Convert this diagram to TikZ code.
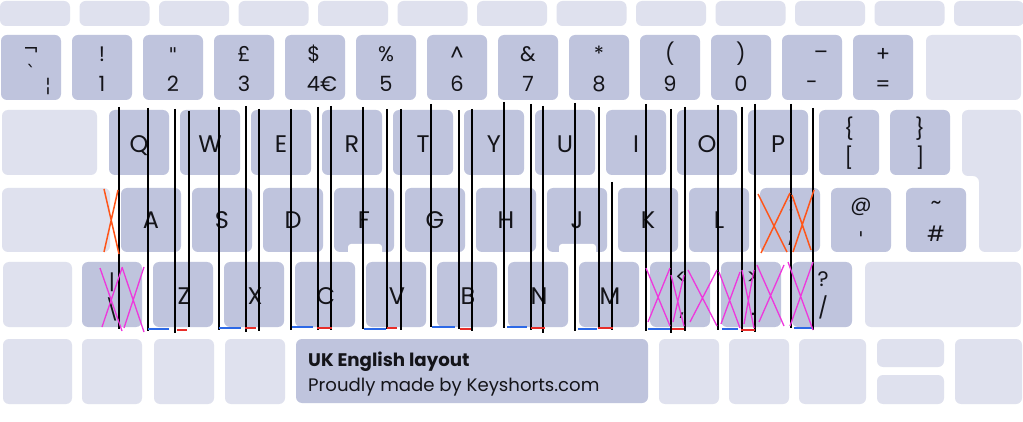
\documentclass[tikz,border=0pt]{standalone}
\usepackage{fontspec}
\setmainfont{Poppins}
\newfontfamily\symf{DejaVu Sans}
\definecolor{keyd}{RGB}{191,196,221}
\definecolor{keyl}{RGB}{223,225,238}
\definecolor{ink}{RGB}{20,20,25}
\definecolor{lblue}{RGB}{45,105,230}
\definecolor{lred}{RGB}{232,45,40}
\definecolor{lorange}{RGB}{255,85,25}
\definecolor{lmag}{RGB}{238,55,220}
\newcommand\keybox[6]{%
  \pgfmathsetmacro\kbw{#5-#3}\pgfmathsetmacro\kbh{#6-#4}%
  \node[#1, minimum width=\kbw pt, minimum height=\kbh pt, anchor=north west] (#2) at (#3,#4) {};}
\begin{document}
\begin{tikzpicture}[x=1pt,y=-1pt,
  dk/.style={fill=keyd, rounded corners=6pt, inner sep=0pt, outer sep=0pt, draw=none},
  lt/.style={fill=keyl, rounded corners=6pt, inner sep=0pt, outer sep=0pt, draw=none},
  lab/.style={inner sep=0pt, anchor=base, font=\fontsize{21}{24}\selectfont, text=ink},
  sym/.style={inner sep=0pt, anchor=base, font=\symf\fontsize{19}{22}\selectfont, text=ink},
  big/.style={inner sep=0pt, anchor=base, font=\fontsize{24}{26}\selectfont, text=ink},
  blk/.style={line width=1.4pt, black},
  bseg/.style={line width=2pt, lblue},
  rseg/.style={line width=2pt, lred},
  oxx/.style={line width=1.5pt, lorange},
  mxx/.style={line width=1.3pt, lmag}]
\useasboundingbox (0,0) rectangle (1023,422);
\fill[white] (0,0) rectangle (1023,422);
% function row
\foreach \i in {0,...,12}{
  \pgfmathsetmacro\fx{79.5*\i}
  \keybox{lt}{f\i}{\fx}{1}{\fx+70}{26}}
% number row
\foreach \i/\n in {0/grave,1/one,2/two,3/three,4/four,5/five,6/six,7/seven,8/eight,9/nine,10/zero,11/minus,12/equal}{
  \pgfmathsetmacro\fx{1+71*\i}
  \keybox{dk}{k\n}{\fx}{35}{\fx+60}{100}}
\keybox{lt}{kback}{926}{35}{1021}{100}
% qwerty row
\keybox{lt}{ktab}{2}{110}{97}{175}
\foreach \i/\n in {0/Q,1/W,2/E,3/R,4/T,5/Y,6/U,7/I,8/O,9/P,10/lbr,11/rbr}{
  \pgfmathsetmacro\fx{109+71*\i}
  \keybox{dk}{k\n}{\fx}{110}{\fx+60}{175}}
\path[fill=keyl, rounded corners=6pt] (962,110) -- (1021,110) -- (1021,252) -- (979,252) -- (979,176) -- (962,176) -- cycle;
% home row
\keybox{lt}{kcaps}{2}{188}{110}{252}
\foreach \i/\n in {0/A,1/S,2/D,3/F,4/G,5/H,6/J,7/K,8/L,9/semi,10/quote}{
  \pgfmathsetmacro\fx{121+71*\i}
  \keybox{dk}{k\n}{\fx}{188}{\fx+60}{252}}
\keybox{dk}{khash}{906}{188}{966}{252}
\fill[white, rounded corners=3pt] (348,244) rectangle (382,258);
\fill[white, rounded corners=3pt] (559,244) rectangle (596,258);
% bottom letter row
\keybox{lt}{klshift}{3}{262}{72}{327}
\keybox{dk}{kbslash}{82}{262}{142}{327}
\foreach \i/\n in {0/Z,1/X,2/C,3/V,4/B,5/N,6/M,7/comma,8/period,9/slash}{
  \pgfmathsetmacro\fx{153+71*\i}
  \keybox{dk}{k\n}{\fx}{262}{\fx+60}{327}}
\keybox{lt}{krshift}{865}{262}{1021}{327}
% bottom row
\keybox{lt}{b1}{3}{339}{72}{404}
\keybox{lt}{b2}{82}{339}{142}{404}
\keybox{lt}{b3}{154}{339}{214}{404}
\keybox{lt}{b4}{225}{339}{285}{404}
\keybox{dk}{space}{296}{339}{648}{403}
\keybox{lt}{b5}{659}{339}{719}{404}
\keybox{lt}{b6}{729}{339}{789}{404}
\keybox{lt}{b7}{799}{339}{866}{404}
\keybox{lt}{bup}{877}{339}{944}{367}
\keybox{lt}{bdn}{877}{375}{944}{404}
\keybox{lt}{b8}{955}{339}{1022}{404}
% number-row labels
\node[sym] (tnot) at (31,56) {¬};
\node[sym] (tgr) at (31,80) {\char"60};
\node[sym] (tbar) at (48,92) {¦};
\foreach \x/\s/\d/\n in {102/!/1/a,244/£/3/c,386/\%/5/e,457/\^{}/6/f,528/\&/7/g,599/*/8/h,670/(/9/i,741/)/0/j,883/+/=/l}{
  \node[lab] (s\n) at (\x,62) {\s};
  \node[lab] (d\n) at (\x,92) {\d};}
\node[sym] (sb) at (173,62) {\char"22};
\node[lab] (db) at (173,92) {2};
\node[lab] (sd) at (314,62) {\$};
\node[lab] (dd) at (322,92) {4€};
\node[lab] (sk) at (821,60) {–};
\node[lab] (dk) at (812,90) {-};
% letters
\foreach \x/\l in {139/Q,210/W,281/E,352/R,423/T,494/Y,565/U,636/I,707/O,778/P}{
  \node[big] (t\l) at (\x,153) {\l};}
\foreach \x/\l in {151/A,222/S,293/D,364/F,435/G,506/H,577/J,648/K,719/L}{
  \node[big] (t\l) at (\x,229) {\l};}
\foreach \x/\l in {184/Z,255/X,326/C,397/V,468/B,539/N,610/M}{
  \node[big] (t\l) at (\x,305) {\l};}
\node[lab] (tlb1) at (849,137) {\{};
\node[lab] (tlb2) at (849,166) {[};
\node[lab] (trb1) at (920,137) {\}};
\node[lab] (trb2) at (920,166) {]};
\node[lab] (tcol) at (791,212) {:};
\node[lab] (tsem) at (791,243) {;};
\node[lab] (tat) at (861,212) {@};
\node[sym] (tap) at (861,246) {\char"27};
\node[lab] (ttil) at (936,210) {\~{}};
\node[lab] (thsh) at (936,242) {\#};
\node[lab] (tpipe) at (112,290) {|};
\node[lab] (tbsl) at (112,317) {\textbackslash};
\node[lab] (tlt) at (681,284) {<};
\node[lab] (tcm) at (682,316) {,};
\node[lab] (tgt) at (752,284) {>};
\node[lab] (tpd) at (753,316) {.};
\node[lab] (tq) at (823,287) {?};
\node[lab] (tsl) at (823,316) {/};
% spacebar text
\node[inner sep=0pt, anchor=base west, font=\fontsize{18.2}{22}\selectfont\bfseries, text=ink] (title) at (308,366) {UK English layout};
\node[inner sep=0pt, anchor=base west, font=\fontsize{18.1}{22}\selectfont, text=ink] (sub) at (308,391) {Proudly made by Keyshorts.com};
% black vertical lines
\foreach \x/\a/\b in {119/107/329,148/108/331,175/109/333,189/111/327,219/107/330,246/106/332,259/109/331,291/109/330,318/107/330,331/106/330,363/107/329,387/109/329,401/109/330,431/104/327,459/110/329,472/109/331,504/102/328,531/104/330,543/106/333,575/103/331,599/107/328,612/182/330,646/104/331,671/109/333,685/107/331,718/105/330,742/107/332,755/104/332,791/104/328,813/108/330}{
  \draw[blk] (\x,\a) -- (\x,\b);}
% blue and red segments
\foreach \a/\b/\y in {148/169/329,219/241/328,292/313/327,364/386/329,432/455/327,507/527/327,578/597/329,648/670/329,722/738/329,794/812/328}{
  \draw[bseg] (\a,\y) -- (\b,\y);}
\foreach \a/\b/\y in {177/187/330,245/256/328,317/332/328,387/397/328,460/471/329,531/545/328,598/613/328,672/684/329,741/755/330}{
  \draw[rseg] (\a,\y) -- (\b,\y);}
% orange crosses
\draw[oxx] (104,189) -- (119,254) (118,190) -- (104,252);
\draw[oxx] (758,194) -- (787,252) (790,193) -- (761,253);
\draw[oxx] (792,195) -- (811,250) (814,190) -- (793,252);
% magenta crosses
\foreach \a/\b/\t/\u in {100/122/268/331,122/144/267/332,646/670/268/326,671/684/275/326,688/717/270/326,719/740/272/328,742/754/270/328,757/784/265/326,788/813/262/330}{
  \draw[mxx] (\a,\t) -- (\b,\u) (\b,\t) -- (\a+2,\u-4);}
\end{tikzpicture}
\end{document}
